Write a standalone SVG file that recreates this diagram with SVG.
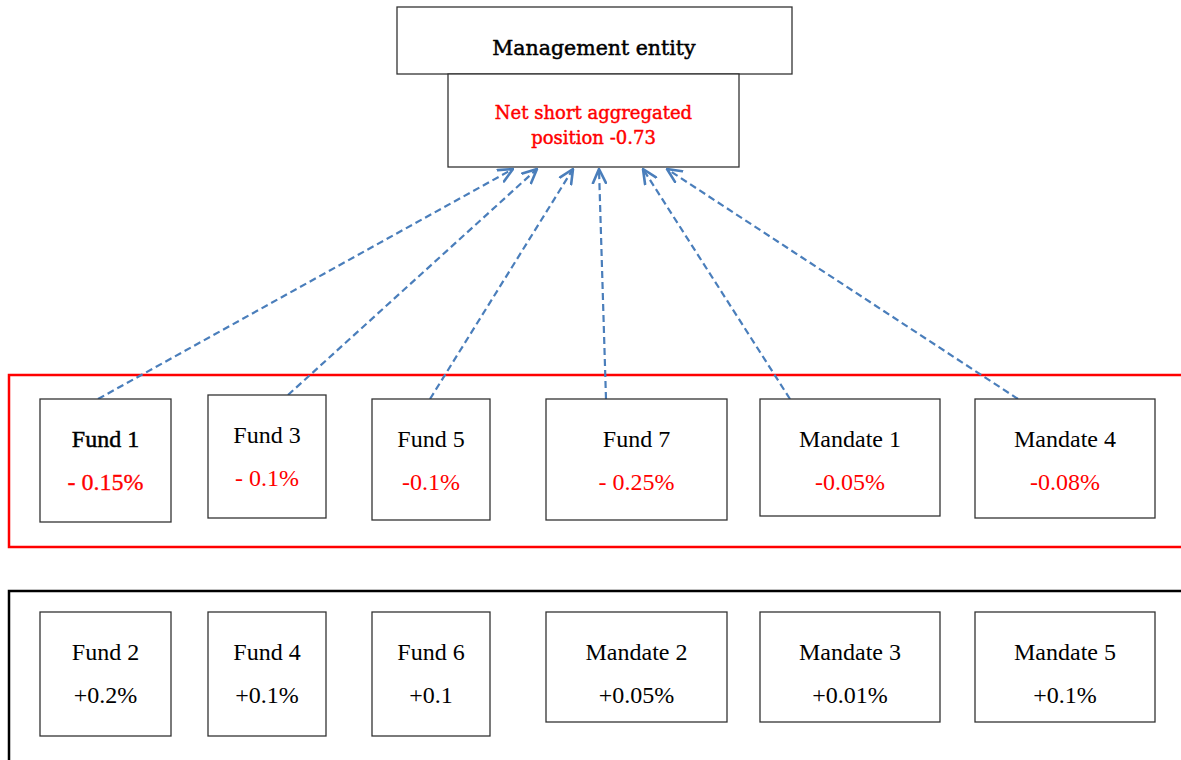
<svg xmlns="http://www.w3.org/2000/svg" width="1181" height="760" viewBox="0 0 1181 760">
<defs>
<style>
.box{fill:#fff;stroke:#333;stroke-width:1.3}
.t{font-family:"Liberation Serif","Times New Roman",serif;font-size:24px;text-anchor:middle;fill:#000}
.r{fill:#ff0000}
.hd{font-family:"DejaVu Serif","Liberation Serif",serif;text-anchor:middle}
.con{stroke:#4a7ebb;stroke-width:2.2;fill:none;stroke-dasharray:7 4}
.ah{stroke:#4a7ebb;stroke-width:2.6;fill:none;stroke-linecap:round;stroke-linejoin:round}
</style>
<marker id="arr" viewBox="0 0 16 16" refX="15" refY="8" markerWidth="16" markerHeight="16" markerUnits="userSpaceOnUse" orient="auto">
<path d="M1,1.5 L15,8 L1,14.5" class="ah"/>
</marker>
</defs>
<rect width="1181" height="760" fill="#fff"/>
<g id="group-short">
<rect x="9" y="375" width="1180" height="172" fill="none" stroke="#ff0000" stroke-width="2.5"/>
</g>
<g id="group-long">
<rect x="9" y="591" width="1180" height="180" fill="none" stroke="#000" stroke-width="2.5"/>
</g>
<g id="mgmt">
<rect class="box" x="397" y="7" width="395" height="67"/>
<text class="hd" x="594" y="55" font-size="20.5" fill="#000" stroke="#000" stroke-width="0.5">Management entity</text>
</g>
<g id="net">
<rect class="box" x="448" y="74" width="291" height="93"/>
<text class="hd" x="593.5" y="119" font-size="18" fill="#ff0000" stroke="#ff0000" stroke-width="0.45">Net short aggregated</text>
<text class="hd" x="593.5" y="144" font-size="18" fill="#ff0000" stroke="#ff0000" stroke-width="0.45">position -0.73</text>
</g>
<g id="connectors">
<line class="con" x1="98" y1="399" x2="513" y2="169" marker-end="url(#arr)"/>
<line class="con" x1="288" y1="395" x2="537" y2="169" marker-end="url(#arr)"/>
<line class="con" x1="430" y1="399" x2="573" y2="169" marker-end="url(#arr)"/>
<line class="con" x1="606" y1="399" x2="599" y2="169" marker-end="url(#arr)"/>
<line class="con" x1="790" y1="399" x2="643" y2="169" marker-end="url(#arr)"/>
<line class="con" x1="1018" y1="399" x2="667" y2="169" marker-end="url(#arr)"/>
</g>
<g id="fund1">
<rect class="box" x="40" y="399" width="131" height="123"/>
<text class="t" x="105.5" y="447" stroke="#000" stroke-width="0.45">Fund 1</text>
<text class="t r" x="105.5" y="490" stroke="#ff0000" stroke-width="0.3">- 0.15%</text>
</g>
<g id="fund3">
<rect class="box" x="208" y="395" width="118" height="123"/>
<text class="t" x="267" y="443">Fund 3</text>
<text class="t r" x="267" y="486">- 0.1%</text>
</g>
<g id="fund5">
<rect class="box" x="372" y="399" width="118" height="121"/>
<text class="t" x="431" y="447">Fund 5</text>
<text class="t r" x="431" y="490">-0.1%</text>
</g>
<g id="fund7">
<rect class="box" x="546" y="399" width="181" height="121"/>
<text class="t" x="636.5" y="447">Fund 7</text>
<text class="t r" x="636.5" y="490">- 0.25%</text>
</g>
<g id="mandate1">
<rect class="box" x="760" y="399" width="180" height="117"/>
<text class="t" x="850" y="447">Mandate 1</text>
<text class="t r" x="850" y="490">-0.05%</text>
</g>
<g id="mandate4">
<rect class="box" x="975" y="399" width="180" height="119"/>
<text class="t" x="1065" y="447">Mandate 4</text>
<text class="t r" x="1065" y="490">-0.08%</text>
</g>
<g id="fund2">
<rect class="box" x="40" y="612" width="131" height="124"/>
<text class="t" x="105.5" y="660">Fund 2</text>
<text class="t" x="105.5" y="703">+0.2%</text>
</g>
<g id="fund4">
<rect class="box" x="208" y="612" width="118" height="124"/>
<text class="t" x="267" y="660">Fund 4</text>
<text class="t" x="267" y="703">+0.1%</text>
</g>
<g id="fund6">
<rect class="box" x="372" y="612" width="118" height="124"/>
<text class="t" x="431" y="660">Fund 6</text>
<text class="t" x="431" y="703">+0.1</text>
</g>
<g id="mandate2">
<rect class="box" x="546" y="612" width="181" height="110"/>
<text class="t" x="636.5" y="660">Mandate 2</text>
<text class="t" x="636.5" y="703">+0.05%</text>
</g>
<g id="mandate3">
<rect class="box" x="760" y="612" width="180" height="110"/>
<text class="t" x="850" y="660">Mandate 3</text>
<text class="t" x="850" y="703">+0.01%</text>
</g>
<g id="mandate5">
<rect class="box" x="975" y="612" width="180" height="110"/>
<text class="t" x="1065" y="660">Mandate 5</text>
<text class="t" x="1065" y="703">+0.1%</text>
</g>
</svg>
